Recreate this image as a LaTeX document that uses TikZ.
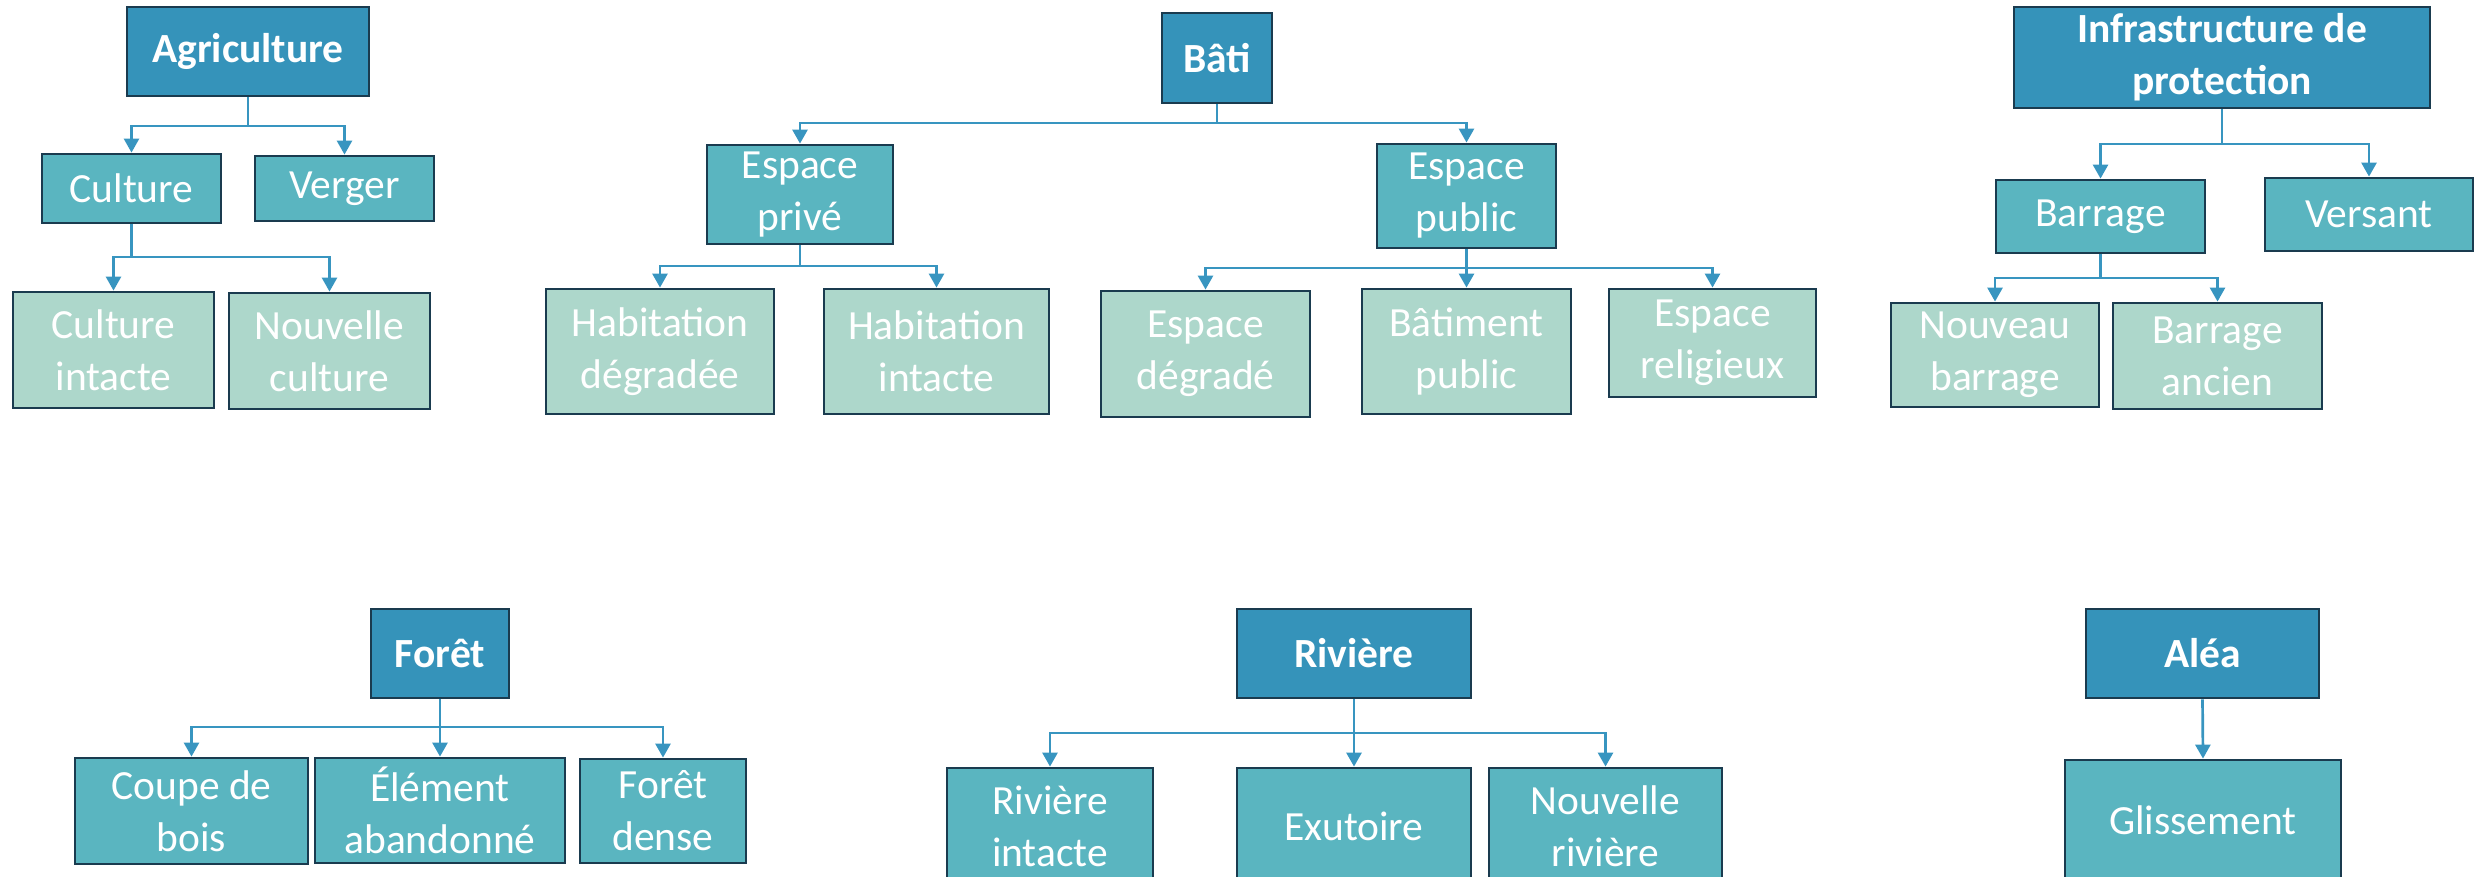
\documentclass[tikz,border=0pt]{standalone}
\usepackage{fontspec}
\setmainfont{Carlito}
\usetikzlibrary{arrows.meta}
\definecolor{hdr}{HTML}{3593BA}
\definecolor{mid}{HTML}{5AB5C0}
\definecolor{lgt}{HTML}{ADD7CB}
\definecolor{bord}{HTML}{1A3B4F}
\definecolor{arr}{HTML}{3895C0}
\tikzset{
 box/.style={draw=bord, line width=1.4pt, inner sep=0pt, align=center, text=white, font=\fontsize{20.75}{26}\selectfont},
 hbox/.style={box, fill=hdr, font=\fontsize{20.75}{26}\selectfont\bfseries},
 mbox/.style={box, fill=mid},
 lbox/.style={box, fill=lgt},
 conn/.style={draw=arr, line width=1.35pt, -{Triangle[width=7.5pt,length=7pt]}},
}
\newcommand\bx[7]{\node[#6, minimum width={(#4-#2)*0.5pt}, minimum height={(#5-#3)*0.5pt}] (#1) at ({(#2+#4)/2},{(#3+#5)/2}) {#7};}
\begin{document}
\begin{tikzpicture}[x=0.5pt,y=-0.5pt]
\path[use as bounding box] (0,0) rectangle (2484,877);
\clip (0,0) rectangle (2484,877);
% Agriculture
\bx{agri}{127}{7}{369}{96}{hbox}{Agriculture}
\bx{cult}{42}{154}{221}{223}{mbox}{Culture}
\bx{verg}{255}{156}{434}{221}{mbox}{Verger}
\bx{culti}{13}{292}{214}{408}{lbox}{Culture\\intacte}
\bx{cultn}{229}{293}{430}{409}{lbox}{Nouvelle\\culture}
\coordinate (ja) at (0,126);
\coordinate (jb) at (0,257);
\draw[conn] (agri.south) -- (agri.south |- ja) -| (cult.north);
\draw[conn] (agri.south) -- (agri.south |- ja) -| (verg.north);
\draw[conn] (cult.south) -- (cult.south |- jb) -| (culti.north);
\draw[conn] (cult.south) -- (cult.south |- jb) -| (cultn.north);
% Bati
\bx{bati}{1162}{13}{1272}{103}{hbox}{Bâti}
\bx{epriv}{707}{145}{893}{244}{mbox}{Espace\\privé}
\bx{epub}{1377}{144}{1556}{248}{mbox}{Espace\\public}
\bx{habd}{546}{289}{774}{414}{lbox}{Habitation\\dégradée}
\bx{habi}{824}{289}{1049}{414}{lbox}{Habitation\\intacte}
\bx{espd}{1101}{291}{1310}{417}{lbox}{Espace\\dégradé}
\bx{batp}{1362}{289}{1571}{414}{lbox}{Bâtiment\\public}
\bx{espr}{1609}{289}{1816}{397}{lbox}{Espace\\religieux}
\coordinate (jc) at (0,123);
\coordinate (jd) at (0,266);
\coordinate (je) at (0,268);
\draw[conn] (bati.south) -- (bati.south |- jc) -| (epriv.north);
\draw[conn] (bati.south) -- (bati.south |- jc) -| (epub.north);
\draw[conn] (epriv.south) -- (epriv.south |- jd) -| (habd.north);
\draw[conn] (epriv.south) -- (epriv.south |- jd) -| (habi.north);
\draw[conn] (epub.south) -- (epub.south |- je) -| (espd.north);
\draw[conn] (epub.south) -- (batp.north);
\draw[conn] (epub.south) -- (epub.south |- je) -| (espr.north);
% Infrastructure
\bx{infra}{2014}{7}{2430}{108}{hbox}{Infrastructure de\\protection}
\bx{barr}{1996}{180}{2205}{253}{mbox}{Barrage}
\bx{vers}{2265}{178}{2473}{251}{mbox}{Versant}
\bx{nbarr}{1891}{303}{2099}{407}{lbox}{Nouveau\\barrage}
\bx{barra}{2113}{303}{2322}{409}{lbox}{Barrage\\ancien}
\coordinate (jf) at (0,144);
\coordinate (jg) at (0,278);
\draw[conn] (infra.south) -- (infra.south |- jf) -| (barr.north);
\draw[conn] (infra.south) -- (infra.south |- jf) -| (vers.north);
\draw[conn] (barr.south) -- (barr.south |- jg) -| (nbarr.north);
\draw[conn] (barr.south) -- (barr.south |- jg) -| (barra.north);
% Foret
\bx{foret}{371}{609}{509}{698}{hbox}{Forêt}
\bx{coupe}{75}{758}{308}{864}{mbox}{Coupe de\\bois}
\bx{elem}{315}{758}{565}{863}{mbox}{Élément\\abandonné}
\bx{fdense}{580}{759}{746}{863}{mbox}{Forêt\\dense}
\coordinate (jh) at (0,727);
\draw[conn] (foret.south) -- (foret.south |- jh) -| (coupe.north);
\draw[conn] (foret.south) -- (elem.north);
\draw[conn] (foret.south) -- (foret.south |- jh) -| (fdense.north);
% Riviere
\bx{riv}{1237}{609}{1471}{698}{hbox}{Rivière}
\bx{rivi}{947}{768}{1153}{884}{mbox}{Rivière\\intacte}
\bx{exu}{1237}{768}{1471}{884}{mbox}{Exutoire}
\bx{rivn}{1489}{768}{1722}{884}{mbox}{Nouvelle\\rivière}
\coordinate (ji) at (0,733);
\draw[conn] (riv.south) -- (riv.south |- ji) -| (rivi.north);
\draw[conn] (riv.south) -- (exu.north);
\draw[conn] (riv.south) -- (riv.south |- ji) -| (rivn.north);
% Alea
\bx{alea}{2086}{609}{2319}{698}{hbox}{Aléa}
\bx{gliss}{2065}{760}{2341}{880}{mbox}{Glissement}
\draw[conn] (alea.south) -- (gliss.north);
\end{tikzpicture}
\end{document}
